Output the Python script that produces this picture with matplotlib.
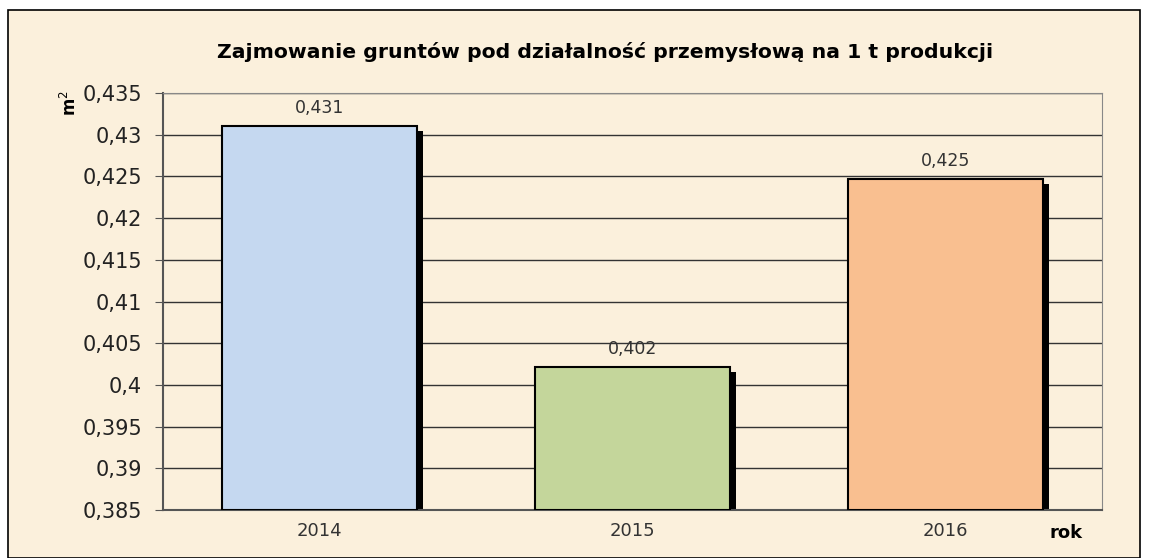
import numpy as np
import matplotlib.pyplot as plt
from matplotlib.patches import Rectangle

plt.rcParams['font.family'] = ['DejaVu Sans']

# data
years = ['2014', '2015', '2016']
values = [0.431, 0.4021, 0.4247]
labels = ['0,431', '0,402', '0,425']
colors = ['#C5D8F0', '#C4D69B', '#F9BF90']
ytick_labels = ['0,385', '0,39', '0,395', '0,4', '0,405', '0,41', '0,415',
                '0,42', '0,425', '0,43', '0,435']

fig = plt.figure(figsize=(11.49, 5.58), dpi=100)
fig.patch.set_facecolor('white')

# outer chart frame
frame = Rectangle((8 / 1149, 0), 1132 / 1149, 548 / 558, transform=fig.transFigure,
                  facecolor='#FBF0DC', edgecolor='black', linewidth=1.2, zorder=-5)
fig.patches.append(frame)

ax = fig.add_axes([163 / 1149, 48 / 558, 939 / 1149, 417 / 558])
ax.set_facecolor('#FBF0DC')

x = np.arange(len(years))
w = 0.62
# shadows
ax.bar(x + 0.02, np.array(values) - 0.385, bottom=0.385 - 0.0006, width=w,
       color='black', zorder=2)
ax.bar(x, np.array(values) - 0.385, bottom=0.385, width=w, color=colors,
       edgecolor='black', linewidth=1.5, zorder=3)

for xi, v, lab in zip(x, values, labels):
    ax.text(xi, v + 0.0011, lab, ha='center', va='bottom', fontsize=12.5, color='#333333')

ax.set_xlim(-0.5, 2.5)
ax.set_ylim(0.385, 0.435)
ax.set_yticks(np.linspace(0.385, 0.435, 11))
ax.set_yticklabels(ytick_labels, fontsize=15, color='#222222')
ax.set_xticks(x)
ax.set_xticklabels(years, fontsize=13, color='#333333')
ax.tick_params(axis='x', length=0, pad=9)
ax.tick_params(axis='y', direction='out', length=6, color='#555555', pad=9)
ax.yaxis.grid(True, color='#333333', linewidth=1)
ax.set_axisbelow(True)
for s in ['top', 'right']:
    ax.spines[s].set_color('#888888')
for s in ['left', 'bottom']:
    ax.spines[s].set_color('#555555')
    ax.spines[s].set_linewidth(1.5)

fig.text(605 / 1149, 1 - 52 / 558,
         'Zajmowanie gruntów pod działalność przemysłową na 1 t produkcji',
         ha='center', va='center', fontsize=14.7, fontweight='bold')
fig.text(70 / 1149, 1 - 103 / 558, 'm$^2$', rotation=90, ha='center', va='center',
         fontsize=12, fontweight='bold')
fig.text(1066 / 1149, 1 - 533 / 558, 'rok', ha='center', va='center',
         fontsize=13, fontweight='bold')

fig.savefig('out.png', dpi=100)
